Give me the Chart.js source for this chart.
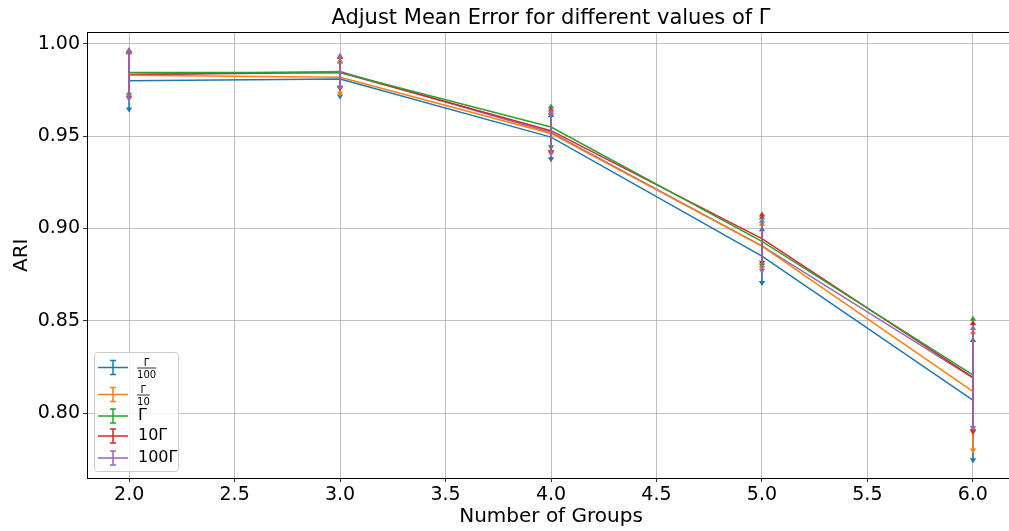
<!DOCTYPE html>
<html>
<head>
<meta charset="utf-8">
<script src="https://cdn.jsdelivr.net/npm/chart.js@4/dist/chart.umd.min.js"></script>
<style>
  html, body { margin: 0; padding: 0; background: #fff; overflow: hidden; }
  #wrap { width: 1015px; height: 531px; }
</style>
</head>
<body>
<div id="wrap"><canvas id="ari" width="1015" height="531"></canvas></div>
<script>
// x values and tick labels
const groups = [2, 3, 4, 5, 6];
const xTicks = [2.0, 2.5, 3.0, 3.5, 4.0, 4.5, 5.0, 5.5, 6.0];
const yTicks = [0.80, 0.85, 0.90, 0.95, 1.00];

// mean ARI per gamma scaling
const meanG100 = [0.980, 0.981, 0.9495, 0.885, 0.807];   // Γ/100
const meanG10 = [0.983, 0.982, 0.9515, 0.8905, 0.8117];  // Γ/10
const meanG = [0.9845, 0.9845, 0.955, 0.893, 0.8207];    // Γ
const mean10G = [0.9835, 0.9845, 0.953, 0.8945, 0.8193]; // 10Γ
const mean100G = [0.9835, 0.985, 0.952, 0.8906, 0.819];  // 100Γ

// error bar half widths
const errG100 = [0.015, 0.009, 0.0115, 0.014, 0.032];
const errG10 = [0.012, 0.0085, 0.0105, 0.0115, 0.0315];
const errG = [0.0115, 0.008, 0.0105, 0.0125, 0.0298];
const err10G = [0.012, 0.008, 0.011, 0.0125, 0.029];
const err100G = [0.0125, 0.008, 0.0105, 0.013, 0.0265];

const colors = ["#1f77b4", "#ff7f0e", "#2ca02c", "#d62728", "#9467bd"];
const means = [meanG100, meanG10, meanG, mean10G, mean100G];
const errs = [errG100, errG10, errG, err10G, err100G];
// legend labels: [numerator, denominator] for fractions, or plain text
const labels = [["Γ", "100"], ["Γ", "10"], "Γ", "10Γ", "100Γ"];
const title = "Adjust Mean Error for different values of Γ";

const FONT = "'DejaVu Sans', sans-serif";

function tri(ctx, x, y, up) {
  const w = 3.2, h = 5;
  ctx.beginPath();
  if (up) {
    ctx.moveTo(x - w, y + 1); ctx.lineTo(x + w, y + 1); ctx.lineTo(x, y - h + 1);
  } else {
    ctx.moveTo(x - w, y - 1); ctx.lineTo(x + w, y - 1); ctx.lineTo(x, y + h - 1);
  }
  ctx.closePath();
  ctx.fill();
}

const errorBars = {
  id: "errorBars",
  beforeDatasetsDraw(chart) {
    // top spine
    const { ctx, chartArea: a } = chart;
    ctx.save();
    ctx.strokeStyle = "#000";
    ctx.lineWidth = 1;
    ctx.beginPath();
    ctx.moveTo(a.left, a.top); ctx.lineTo(a.right, a.top);
    ctx.stroke();
    ctx.restore();
  },
  afterDatasetsDraw(chart) {
    const { ctx, scales: { x, y } } = chart;
    ctx.save();
    means.forEach((m, i) => {
      ctx.strokeStyle = colors[i];
      ctx.fillStyle = colors[i];
      ctx.lineWidth = 1.6;
      groups.forEach((g, j) => {
        const px = Math.round(x.getPixelForValue(g));
        const top = y.getPixelForValue(m[j] + errs[i][j]);
        const bot = y.getPixelForValue(m[j] - errs[i][j]);
        ctx.beginPath();
        ctx.moveTo(px, top); ctx.lineTo(px, bot);
        ctx.stroke();
        tri(ctx, px, top, true);
        tri(ctx, px, bot, false);
      });
    });
    ctx.restore();
  },
  afterDraw(chart) {
    const ctx = chart.ctx;
    const a = chart.chartArea;
    ctx.save();
    // title centred over the axes
    ctx.fillStyle = "#000";
    ctx.font = "21px " + FONT;
    ctx.textAlign = "center";
    ctx.textBaseline = "middle";
    ctx.fillText(title, (a.left + a.right) / 2, 19);

    // legend box, lower left
    const bx = 94.5, by = 352.5, bw = 84, bh = 119;
    ctx.fillStyle = "rgba(255,255,255,0.8)";
    ctx.strokeStyle = "#cccccc";
    ctx.lineWidth = 1;
    ctx.beginPath();
    ctx.roundRect(bx, by, bw, bh, 3);
    ctx.fill();
    ctx.stroke();
    const rows = [367.5, 394.5, 416, 436, 458];
    rows.forEach((ry, i) => {
      ctx.strokeStyle = colors[i];
      ctx.lineWidth = 1.5;
      ctx.beginPath();
      ctx.moveTo(98, ry); ctx.lineTo(128, ry);
      ctx.moveTo(113, ry - 7); ctx.lineTo(113, ry + 7);
      ctx.moveTo(110, ry - 7); ctx.lineTo(116, ry - 7);
      ctx.moveTo(110, ry + 7); ctx.lineTo(116, ry + 7);
      ctx.stroke();
      ctx.fillStyle = "#000";
      const lab = labels[i];
      if (Array.isArray(lab)) {
        ctx.font = "10px " + FONT;
        ctx.textAlign = "center";
        ctx.textBaseline = "alphabetic";
        const cx = 137 + (lab[1].length * 6.4) / 2;
        ctx.fillText(lab[0], cx, ry - 2);
        ctx.fillText(lab[1], cx, ry + 10);
        ctx.strokeStyle = "#000";
        ctx.lineWidth = 0.8;
        ctx.beginPath();
        ctx.moveTo(137, ry + 0.5); ctx.lineTo(137 + lab[1].length * 6.4, ry + 0.5);
        ctx.stroke();
      } else {
        ctx.font = "16px " + FONT;
        ctx.textAlign = "left";
        ctx.textBaseline = "middle";
        ctx.fillText(lab, 138, ry);
      }
    });
    ctx.restore();
  }
};

new Chart(document.getElementById("ari"), {
  type: "line",
  data: {
    datasets: means.map((m, i) => ({
      label: Array.isArray(labels[i]) ? labels[i].join("/") : labels[i],
      data: groups.map((g, j) => ({ x: g, y: m[j] })),
      borderColor: colors[i],
      backgroundColor: colors[i],
      borderWidth: 1.5,
      pointRadius: 0,
      tension: 0,
    })),
  },
  options: {
    responsive: false,
    animation: false,
    devicePixelRatio: 1,
    layout: { padding: { top: 32.5 } },
    plugins: {
      legend: { display: false },
      tooltip: { enabled: false },
      title: { display: false },
    },
    scales: {
      x: {
        type: "linear",
        min: 1.8,
        max: 6.2,
        afterBuildTicks: (s) => { s.ticks = xTicks.map((v) => ({ value: v })); },
        afterFit: (s) => { s.height = 53; },
        ticks: {
          color: "#000",
          padding: 2,
          maxRotation: 0,
          font: { family: FONT, size: 19 },
          callback: (v) => Number(v).toFixed(1),
        },
        grid: { color: "#b0b0b0", lineWidth: 0.8, tickColor: "#000", tickLength: 4 },
        border: { color: "#000", width: 1 },
        title: {
          display: true,
          text: "Number of Groups",
          color: "#000",
          font: { family: FONT, size: 20 },
          padding: { top: 0, bottom: 2 },
        },
      },
      y: {
        min: 0.7648,
        max: 1.0062,
        afterBuildTicks: (s) => { s.ticks = yTicks.map((v) => ({ value: v })); },
        afterFit: (s) => { s.width = 87; },
        ticks: {
          color: "#000",
          padding: 3,
          font: { family: FONT, size: 19 },
          callback: (v) => Number(v).toFixed(2),
        },
        grid: { color: "#b0b0b0", lineWidth: 0.8, tickColor: "#000", tickLength: 4 },
        border: { color: "#000", width: 1 },
        title: {
          display: true,
          text: "ARI",
          color: "#000",
          font: { family: FONT, size: 20 },
          padding: { top: 10, bottom: 0 },
        },
      },
    },
  },
  plugins: [errorBars],
});
</script>
</body>
</html>
